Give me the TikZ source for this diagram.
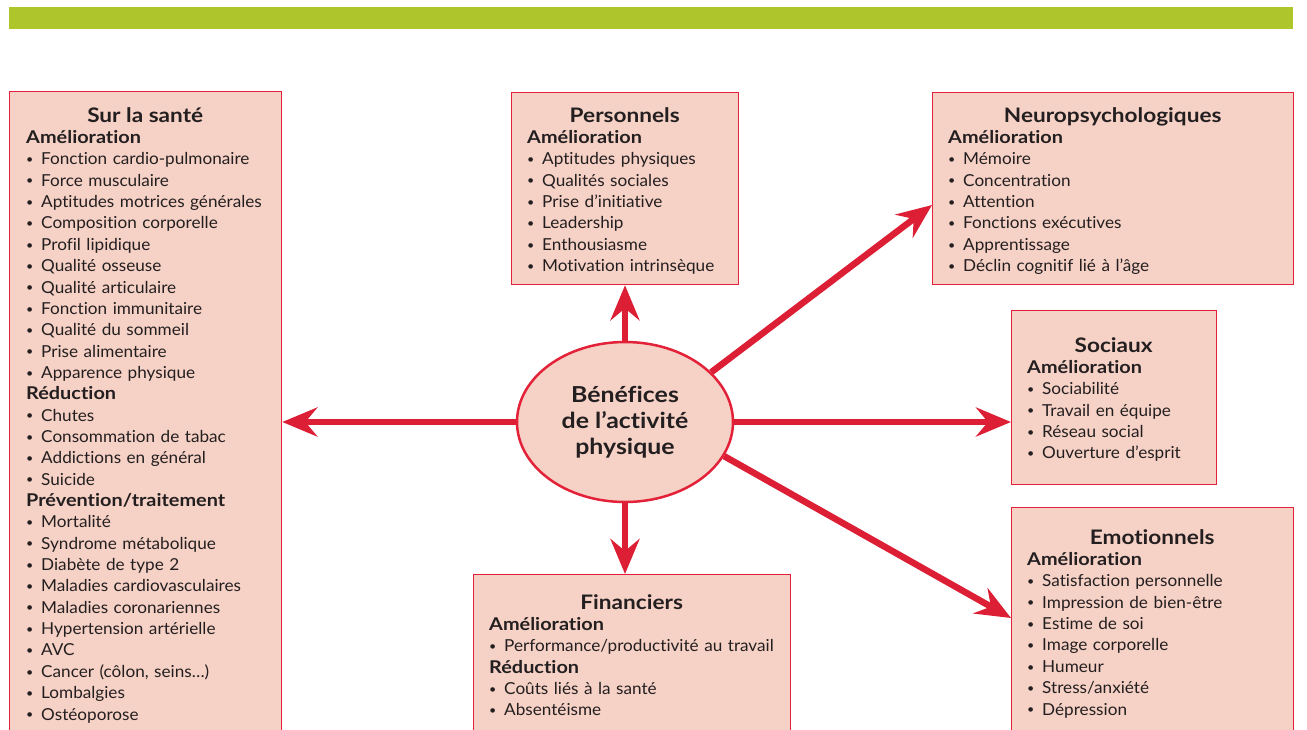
\documentclass[tikz,border=0pt]{standalone}
\usepackage{fontspec}
\setmainfont{Lato}[FakeStretch=1.04,Ligatures=CommonOff]
\newfontfamily\bfam{Lato}[FakeStretch=1.13,Ligatures=CommonOff]
\usetikzlibrary{arrows.meta,shapes.geometric,calc}
\definecolor{boxfill}{HTML}{F6D1C5}
\definecolor{boxline}{HTML}{E3223A}
\definecolor{arrowred}{HTML}{DC1F35}
\definecolor{bargreen}{HTML}{AEC62B}
\definecolor{textdark}{HTML}{231F20}
\newcommand\ttl[1]{\makebox[\linewidth][c]{\rule{0pt}{16pt}\fontsize{20}{21.35}\bfam\bfseries #1}}
\newcommand\sublbl[1]{{\fontsize{17.6}{21.35}\bfam\bfseries #1}}
\newcommand\itm{\makebox[15pt][l]{\raisebox{1.3pt}{\fontsize{12}{12}\selectfont •}}}
\begin{document}
\begin{tikzpicture}[x=1pt,y=-1pt,
  box/.style={draw=boxline, line width=1.3pt, fill=boxfill, inner sep=0pt, anchor=north west},
  txt/.style={anchor=north west, inner sep=0pt, align=left, text=textdark,
    font=\fontsize{16.5}{21.35}\selectfont},
  arr/.style={draw=arrowred, line width=6.5pt, -{Stealth[length=35pt,width=29pt,inset=12pt]}},
  hub/.style={ellipse, draw=boxline, line width=2.5pt, fill=boxfill, inner sep=0pt,
    minimum width=216pt, minimum height=160pt, align=center, text=textdark,
    font=\fontsize{22}{26}\bfam\bfseries}]
\useasboundingbox (0,0) rectangle (1307,729);
\clip (0,0) rectangle (1307,729);
\fill[bargreen] (9,7) rectangle (1293,29);

% boxes
\node[box, minimum width=272pt, minimum height=650pt] (sante) at (9,91) {};
\node[box, minimum width=227pt, minimum height=192pt] (perso) at (511,92) {};
\node[box, minimum width=361pt, minimum height=192pt] (neuro) at (932,92) {};
\node[box, minimum width=205pt, minimum height=174pt] (soc) at (1011,310) {};
\node[box, minimum width=282pt, minimum height=235pt] (emo) at (1011,507) {};
\node[box, minimum width=317pt, minimum height=170pt] (fin) at (473,574) {};

% texts
\node[txt, text width=238pt] (santeT) at (26,106) {\ttl{Sur la santé}\\
\sublbl{Amélioration}\\
\itm Fonction cardio-pulmonaire\\
\itm Force musculaire\\
\itm Aptitudes motrices générales\\
\itm Composition corporelle\\
\itm Profil lipidique\\
\itm Qualité osseuse\\
\itm Qualité articulaire\\
\itm Fonction immunitaire\\
\itm Qualité du sommeil\\
\itm Prise alimentaire\\
\itm Apparence physique\\
\sublbl{Réduction}\\
\itm Chutes\\
\itm Consommation de tabac\\
\itm Addictions en général\\
\itm Suicide\\
\sublbl{Prévention/traitement}\\
\itm Mortalité\\
\itm Syndrome métabolique\\
\itm Diabète de type 2\\
\itm Maladies cardiovasculaires\\
\itm Maladies coronariennes\\
\itm Hypertension artérielle\\
\itm AVC\\
\itm Cancer (côlon, seins…)\\
\itm Lombalgies\\
\itm Ostéoporose};

\node[txt, text width=195pt] (persoT) at (527,106) {\ttl{Personnels}\\
\sublbl{Amélioration}\\
\itm Aptitudes physiques\\
\itm Qualités sociales\\
\itm Prise d’initiative\\
\itm Leadership\\
\itm Enthousiasme\\
\itm Motivation intrinsèque};

\node[txt, text width=329pt] (neuroT) at (948,106) {\ttl{Neuropsychologiques}\\
\sublbl{Amélioration}\\
\itm Mémoire\\
\itm Concentration\\
\itm Attention\\
\itm Fonctions exécutives\\
\itm Apprentissage\\
\itm Déclin cognitif lié à l’âge};

\node[txt, text width=173pt] (socT) at (1027,336) {\ttl{Sociaux}\\
\sublbl{Amélioration}\\
\itm Sociabilité\\
\itm Travail en équipe\\
\itm Réseau social\\
\itm Ouverture d’esprit};

\node[txt, text width=250pt] (emoT) at (1027,528) {\ttl{Emotionnels}\\
\sublbl{Amélioration}\\
\itm Satisfaction personnelle\\
\itm Impression de bien-être\\
\itm Estime de soi\\
\itm Image corporelle\\
\itm Humeur\\
\itm Stress/anxiété\\
\itm Dépression};

\node[txt, text width=285pt] (finT) at (489,593) {\ttl{Financiers}\\
\sublbl{Amélioration}\\
\itm Performance/productivité au travail\\
\sublbl{Réduction}\\
\itm Coûts liés à la santé\\
\itm Absentéisme};

% hub
\node[hub] (ell) at (625,422) {Bénéfices\\de l’activité\\physique};

% arrow ends
\coordinate (neTip) at ([yshift=-113pt]neuro.north west);
\coordinate (seTip) at ([yshift=-111pt]emo.north west);

% arrows
\draw[arr] (ell.west) -- (ell.west -| sante.east);
\draw[arr] (ell.north) -- (ell.north |- perso.south);
\draw[arr] (ell.south) -- (ell.south |- fin.north);
\draw[arr] (ell.east) -- (ell.east -| soc.west);
\draw[arr] (ell.30) -- (neTip);
\draw[arr] (ell.-19) -- (seTip);
\end{tikzpicture}
\end{document}
